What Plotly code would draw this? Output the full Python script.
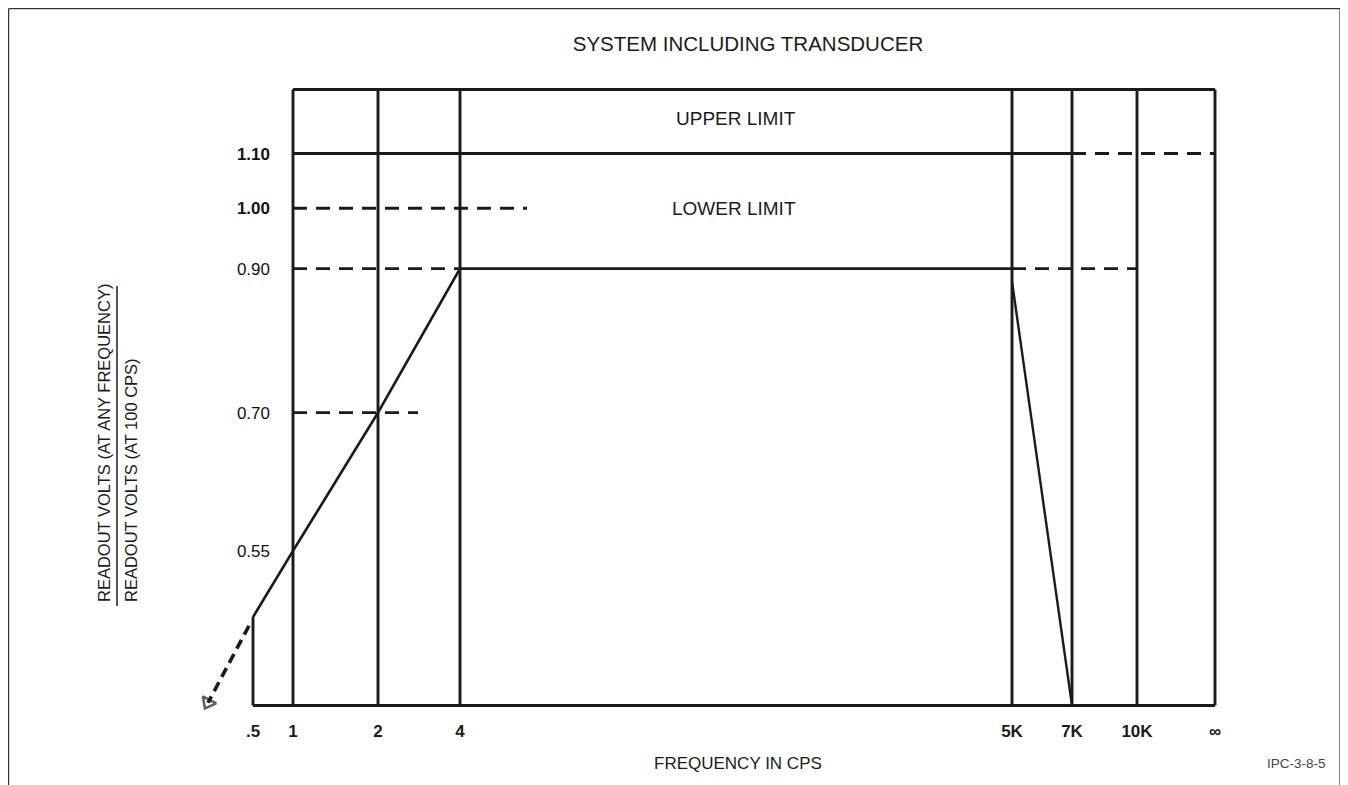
import numpy as np
import plotly.graph_objects as go

# ---------------- data ----------------
freq_labels = ['.5', '1', '2', '4', '5K', '7K', '10K', '∞']
y_tick_vals = [0.55, 0.70, 0.90, 1.00, 1.10]
y_tick_text = ['0.55', '0.70', '0.90', '1.00', '1.10']

response_freq = ['.5', '1', '2', '4']
response_vals = [0.49, 0.55, 0.70, 0.90]

rolloff_freq = ['5K', '7K']
rolloff_vals = [0.88, 0.42]

upper_limit = 1.10
lower_limit = 0.90
unity = 1.00
half_power = 0.70

frame_floor = 0.42
frame_ceiling = 1.23

# ---------------- layout geometry (non-data) ----------------
OFF = 8                                   # page body margin around the figure
W, H = 1348 - OFF, 785 - OFF
PLOT_L, PLOT_R, PLOT_T, PLOT_B = 190, 1225, 80, 715   # plot area in page pixels
ML, MR = PLOT_L - OFF, W - (PLOT_R - OFF)
MT, MB = PLOT_T - OFF, H - (PLOT_B - OFF)
X0, X1 = PLOT_L, PLOT_R                   # x axis range (position units)
# hand-drawn, uneven spacing of the frequency graduations
freq_pos = [253, 293, 378, 460, 1012, 1072, 1137, 1215]
unity_end = 527
half_end = 418
arrow_tip = (208, 0.422)

Y_LO, Y_HI = -0.38397, 0.09713            # log10 range of y axis

def fx(label):
    return freq_pos[freq_labels.index(label)]

def paper_x(px):
    return (px - PLOT_L) / (PLOT_R - PLOT_L)

def paper_y(py):
    return (PLOT_B - py) / (PLOT_B - PLOT_T)

INK = '#1b1b1b'
LW = 2.9
DASH = '14px,9px'
FONT = 'Liberation Sans, Arial, sans-serif'

fig = go.Figure()

def seg(xs, ys, dash='solid', width=LW):
    fig.add_trace(go.Scatter(x=xs, y=ys, mode='lines',
                             line=dict(color=INK, width=width, dash=dash),
                             hoverinfo='skip', showlegend=False))

# frame: verticals at each graduation
for lab in freq_labels[1:]:
    seg([fx(lab), fx(lab)], [frame_floor, frame_ceiling])
seg([fx('.5'), fx('.5')], [frame_floor, response_vals[0]])
seg([fx('1'), fx('∞')], [frame_ceiling, frame_ceiling])
seg([fx('.5'), fx('∞')], [frame_floor, frame_floor])

# upper limit
seg([fx('1'), fx('7K')], [upper_limit, upper_limit])
seg([fx('7K'), fx('∞')], [upper_limit, upper_limit], dash=DASH)

# unity and 0.70 reference
seg([fx('1'), unity_end], [unity, unity], dash=DASH)
seg([fx('1'), half_end], [half_power, half_power], dash=DASH)

# lower limit
seg([fx('1'), fx('4')], [lower_limit, lower_limit], dash=DASH)
seg([fx('4'), fx('5K')], [lower_limit, lower_limit])
seg([fx('5K'), fx('10K')], [lower_limit, lower_limit], dash=DASH)

# response curve
seg([fx(f) for f in response_freq], response_vals, width=2.7)
seg([fx(f) for f in rolloff_freq], rolloff_vals, width=2.4)

# dashed extension arrow below .5
fig.add_trace(go.Scatter(
    x=[fx('.5') - 4, arrow_tip[0]], y=[response_vals[0] * 0.985, arrow_tip[1]],
    mode='lines+markers',
    line=dict(color=INK, width=3.6, dash='10px,6px'),
    marker=dict(symbol=['circle', 'triangle-up-open'], size=[0, 13], angleref='previous',
                color=INK, line=dict(color=INK, width=2.6)),
    hoverinfo='skip', showlegend=False))

# ---------------- axes ----------------
y_tick_shown = [f'<b>{t}</b>' if v >= unity else t for v, t in zip(y_tick_vals, y_tick_text)]

fig.update_xaxes(range=[X0, X1], tickvals=freq_pos, ticktext=freq_labels,
                 showgrid=False, zeroline=False, showline=False,
                 ticks='outside', ticklen=1, tickcolor='white',
                 tickfont=dict(family=FONT, size=17, color=INK, weight='bold'))
fig.update_yaxes(type='log', range=[Y_LO, Y_HI], tickvals=y_tick_vals, ticktext=y_tick_shown,
                 showgrid=False, zeroline=False, showline=False, ticks='',
                 anchor='free', position=paper_x(270), side='left',
                 tickfont=dict(family=FONT, size=17, color='#111'))

annotations = [
    dict(text='UPPER LIMIT', x=736, y=np.log10(1.17), xref='x', yref='y', showarrow=False,
         font=dict(size=19, family=FONT, color=INK)),
    dict(text='LOWER LIMIT', x=734, y=np.log10(unity), xref='x', yref='y', showarrow=False,
         font=dict(size=19, family=FONT, color=INK)),
    dict(text='FREQUENCY IN CPS', x=paper_x(738), y=paper_y(763), xref='paper', yref='paper',
         xanchor='center', yanchor='middle',
         showarrow=False, font=dict(size=17, family=FONT, color=INK)),
    dict(text='READOUT VOLTS (AT ANY FREQUENCY)', textangle=-90,
         x=paper_x(104), y=paper_y(604), xref='paper', yref='paper',
         xanchor='center', yanchor='bottom', showarrow=False,
         font=dict(size=16.5, family=FONT, color=INK)),
    dict(text='READOUT VOLTS (AT 100 CPS)', textangle=-90,
         x=paper_x(131), y=paper_y(604), xref='paper', yref='paper',
         xanchor='center', yanchor='bottom', showarrow=False,
         font=dict(size=16.5, family=FONT, color=INK)),
    dict(text='IPC-3-8-5', x=paper_x(1296), y=paper_y(763), xref='paper', yref='paper',
         xanchor='center', yanchor='middle',
         showarrow=False, font=dict(size=13.5, family=FONT, color='#444')),
]

shapes = [
    # fraction bar of the y-axis title
    dict(type='line', xref='paper', yref='paper', x0=paper_x(117), x1=paper_x(117),
         y0=paper_y(606), y1=paper_y(286), line=dict(color=INK, width=1.5)),
    # outer page frame
    dict(type='line', xref='paper', yref='paper', x0=paper_x(8.6), x1=paper_x(1340),
         y0=paper_y(8.6), y1=paper_y(8.6), line=dict(color='#333', width=1.2)),
    dict(type='line', xref='paper', yref='paper', x0=paper_x(8.6), x1=paper_x(8.6),
         y0=paper_y(8.6), y1=paper_y(800), line=dict(color='#333', width=1.2)),
    dict(type='line', xref='paper', yref='paper', x0=paper_x(1340), x1=paper_x(1340),
         y0=paper_y(8.6), y1=paper_y(800), line=dict(color='#333', width=1.2)),
]

fig.update_layout(
    width=W, height=H,
    margin=dict(l=ML, r=MR, t=MT, b=MB),
    paper_bgcolor='white', plot_bgcolor='white',
    title=dict(text='SYSTEM INCLUDING TRANSDUCER', x=(748 - OFF) / W, xanchor='center',
               y=1 - (44 - OFF) / H, yanchor='middle',
               font=dict(family=FONT, size=20.5, color=INK)),
    annotations=annotations, shapes=shapes, showlegend=False,
)

fig.write_html('out.html')
